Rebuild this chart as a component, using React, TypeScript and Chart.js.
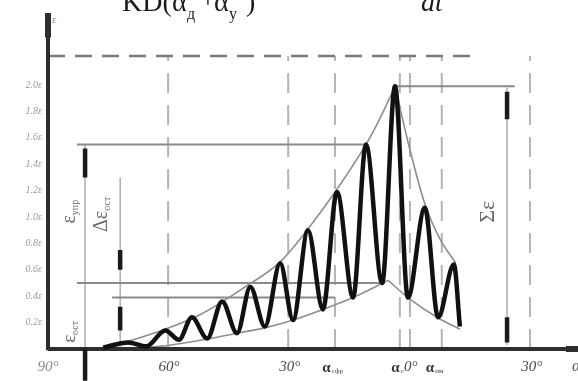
import React, { useEffect, useRef } from 'react';
import { Chart, registerables } from 'chart.js';

Chart.register(...registerables);

// x: phase angle in degrees (0 = crest), y: strain in units of ε
const waveAngles = [-76.3, -70.1, -65.6, -60.9, -57.5, -54.3, -50.5, -46.8, -43.1, -39.8, -36.2, -32.4, -29.2, -25.5, -21.8, -18.3, -14.3, -11.1, -7.1, -3.9, -0.7, 3.5, 6.8, 10.7, 12.2];
const waveValues = [0.01, 0.05, 0.02, 0.14, 0.07, 0.24, 0.08, 0.36, 0.12, 0.47, 0.17, 0.65, 0.22, 0.9, 0.3, 1.19, 0.39, 1.55, 0.5, 1.99, 0.39, 1.07, 0.24, 0.64, 0.17];

const upperLeftAngles = [-75.9, -64.7, -52.3, -41.6, -32.4, -25.5, -18.3, -11.1, -7.6, -3.9];
const upperLeftValues = [0.01, 0.11, 0.26, 0.46, 0.66, 0.91, 1.21, 1.55, 1.75, 1.99];
const upperRightAngles = [-3.9, -0.2, 3.5, 7.3, 11.2];
const upperRightValues = [1.99, 1.51, 1.1, 0.83, 0.65];
const lowerLeftAngles = [-76.3, -62.2, -49.8, -43.1, -36.2, -29.2, -21.8, -14.3, -5.6];
const lowerLeftValues = [0, 0.02, 0.08, 0.12, 0.16, 0.22, 0.3, 0.39, 0.52];
const lowerRightAngles = [-5.6, -0.7, 6.8, 12.2];
const lowerRightValues = [0.52, 0.39, 0.235, 0.15];

// reference levels (value, from angle, to angle)
const levelValues = [1.99, 1.55, 0.5, 0.39];
const levelFrom = [-3.9, -82.8, -82.8, -74.1];
const levelTo = [25.8, -10.8, -6.4, -18.8];

const topLevel = 2.22;
const topLevelTo = 17.2;

// vertical dashed reference angles
const dashedAngles = [-60.2, -30.4, -18.8, -2.7, -0.2, 7.7, 29.6];

// dimension lines: angle, from, to
const dimAngles = [-80.8, -72.1, 23.9];
const dimFrom = [1.55, 1.3, 1.98];
const dimTo = [-0.24, 0, 0.03];
// arrow heads: angle, from, to
const arrowAngles = [-80.8, -80.8, -72.1, -72.1, 23.9, 23.9];
const arrowFrom = [1.52, 0, 0.75, 0.32, 1.95, 0.24];
const arrowTo = [1.3, -0.24, 0.6, 0.14, 1.74, 0.05];

const xTickAngles = [-90, -60, -30, 0, 30];
const yTickValues = [0.2, 0.4, 0.6, 0.8, 1.0, 1.2, 1.4, 1.6, 1.8, 2.0];

const X_MIN = -90;
const X_MAX = 41.5;
const Y_MAX = 2.22;
const AXIS_TOP = 2.545;

const SERIF = '"Liberation Serif", "DejaVu Serif", serif';

const rotatedLabels = [
  { a: -85.0, v: 1.04, main: 'ε', sub: 'упр', size: 20 },
  { a: -77.1, v: 1.02, main: 'Δε', sub: 'ост', size: 20 },
  { a: -85.0, v: 0.13, main: 'ε', sub: 'ост', size: 19 },
  { a: 18.7, v: 1.04, main: 'Σε', sub: '', size: 22 },
];

const alphaLabels = [
  { a: -19.5, sub: 'сфр' },
  { a: -3.4, sub: 'с' },
  { a: 5.8, sub: 'пм' },
];

function line(xs: number[], ys: number[], color: string, width: number, dash: number[] = [], smooth = false) {
  return {
    type: 'line' as const,
    data: xs.map((x, i) => ({ x, y: ys[i] })),
    borderColor: color,
    borderWidth: width,
    borderDash: dash,
    pointRadius: 0,
    fill: false,
    tension: smooth ? 0.4 : 0,
    cubicInterpolationMode: smooth ? ('monotone' as const) : ('default' as const),
    clip: false as const,
    borderCapStyle: 'butt' as const,
  };
}

const annotPlugin = {
  id: 'annot',
  afterDatasetsDraw(chart: any) {
    const { ctx, scales, chartArea } = chart;
    const xs = scales.x;
    const ys = scales.y;
    ctx.save();
    // rotated labels
    for (const l of rotatedLabels) {
      const px = xs.getPixelForValue(l.a);
      const py = ys.getPixelForValue(l.v);
      ctx.save();
      ctx.translate(px, py);
      ctx.rotate(-Math.PI / 2);
      ctx.fillStyle = '#6a6a6a';
      ctx.font = `${l.size}px ${SERIF}`;
      const mw = ctx.measureText(l.main).width;
      const subSize = Math.round(l.size * 0.5);
      ctx.font = `${subSize}px ${SERIF}`;
      const sw = l.sub ? ctx.measureText(l.sub).width : 0;
      const total = mw + sw;
      ctx.textBaseline = 'alphabetic';
      ctx.font = `${l.size}px ${SERIF}`;
      ctx.fillText(l.main, -total / 2, l.size * 0.35);
      if (l.sub) {
        ctx.font = `${subSize}px ${SERIF}`;
        ctx.fillText(l.sub, -total / 2 + mw, l.size * 0.35 + l.size * 0.15);
      }
      ctx.restore();
    }
    // alpha labels under the x axis
    const by = chartArea.bottom + 23;
    for (const l of alphaLabels) {
      const px = xs.getPixelForValue(l.a);
      ctx.fillStyle = '#3a3a3a';
      ctx.font = `bold 15px ${SERIF}`;
      const mw = ctx.measureText('α').width;
      ctx.font = `7px ${SERIF}`;
      const sw = ctx.measureText(l.sub).width;
      const left = px - (mw + sw) / 2;
      ctx.font = `bold 15px ${SERIF}`;
      ctx.fillText('α', left, by);
      ctx.font = `7px ${SERIF}`;
      ctx.fillText(l.sub, left + mw + 1, by + 1);
    }
    // axis name
    ctx.fillStyle = '#8a8a8a';
    ctx.font = `italic 11px ${SERIF}`;
    ctx.fillText('ε', xs.getPixelForValue(X_MIN) + 4, ys.getPixelForValue(2.47));
    ctx.fillStyle = '#555';
    ctx.font = `italic 16px ${SERIF}`;
    ctx.fillText('α', chartArea.right - 6, chartArea.bottom + 22);
    // formula fragment at the top (cut by the frame)
    ctx.fillStyle = '#1a1a1a';
    ctx.font = `28px ${SERIF}`;
    ctx.fillText('KD(', 122, 11);
    ctx.fillText('α', 172, 11);
    ctx.font = `16px ${SERIF}`;
    ctx.fillText('д', 187, 19);
    ctx.font = `28px ${SERIF}`;
    ctx.fillText('+', 200, 8);
    ctx.fillText('α', 214, 11);
    ctx.font = `16px ${SERIF}`;
    ctx.fillText('у', 229, 19);
    ctx.font = `28px ${SERIF}`;
    ctx.fillText(')', 246, 11);
    ctx.font = `italic 28px ${SERIF}`;
    ctx.fillText('dt', 421, 11);
    ctx.restore();
  },
};

export default function App() {
  const ref = useRef<HTMLCanvasElement | null>(null);

  useEffect(() => {
    if (!ref.current) return;
    const datasets: any[] = [];
    // main oscillation (on top)
    datasets.push(line(waveAngles, waveValues, '#111111', 4.5, [], true));
    // arrow heads
    for (let i = 0; i < arrowAngles.length; i++) {
      datasets.push(line([arrowAngles[i], arrowAngles[i]], [arrowFrom[i], arrowTo[i]], '#1a1a1a', 4.5));
    }
    // axes
    datasets.push(line([X_MIN, X_MIN], [-0.01, AXIS_TOP], '#2e2e2e', 4));
    datasets.push(line([X_MIN, X_MIN], [2.36, AXIS_TOP], '#2e2e2e', 6));
    datasets.push(line([X_MIN, X_MAX], [0, 0], '#2e2e2e', 4));
    datasets.push(line([38.5, X_MAX], [0, 0], '#2e2e2e', 6));
    // envelopes
    datasets.push(line(upperLeftAngles, upperLeftValues, '#8e8e8e', 1.6, [], true));
    datasets.push(line(upperRightAngles, upperRightValues, '#8e8e8e', 1.6, [], true));
    datasets.push(line(lowerLeftAngles, lowerLeftValues, '#8e8e8e', 1.6, [], true));
    datasets.push(line(lowerRightAngles, lowerRightValues, '#8e8e8e', 1.6, [], true));
    // horizontal levels
    for (let i = 0; i < levelValues.length; i++) {
      datasets.push(line([levelFrom[i], levelTo[i]], [levelValues[i], levelValues[i]], '#8a8a8a', 2));
    }
    // dimension lines
    for (let i = 0; i < dimAngles.length; i++) {
      datasets.push(line([dimAngles[i], dimAngles[i]], [dimFrom[i], dimTo[i]], '#9a9a9a', 1.2));
    }
    // top dashed
    datasets.push(line([X_MIN, topLevelTo], [topLevel, topLevel], '#7a7a7a', 2.5, [17, 10]));
    // vertical dashed
    for (const a of dashedAngles) {
      datasets.push(line([a, a], [0, Y_MAX], '#b4b4b4', 2, [20, 12]));
    }

    const chart = new Chart(ref.current, {
      type: 'line',
      data: { datasets },
      options: {
        animation: false,
        responsive: false,
        devicePixelRatio: 1,
        layout: { padding: { top: 56, left: 0, right: 0, bottom: 0 } },
        plugins: { legend: { display: false }, tooltip: { enabled: false } },
        scales: {
          x: {
            type: 'linear',
            min: X_MIN,
            max: X_MAX,
            grid: { display: false, drawTicks: false },
            border: { display: false },
            afterFit: (s: any) => { s.height = 32; },
            afterBuildTicks: (s: any) => { s.ticks = xTickAngles.map((v) => ({ value: v })); },
            ticks: {
              padding: 9,
              maxRotation: 0,
              autoSkip: false,
              font: { family: SERIF, size: 15, style: 'italic' },
              color: (c: any) => (c.tick && c.tick.value === -90 ? '#8a8a8a' : '#4a4a4a'),
              callback: (v: any) => `${Math.abs(Number(v))}°`,
            },
          },
          y: {
            type: 'linear',
            min: 0,
            max: Y_MAX,
            grid: { display: false, drawTicks: false },
            border: { display: false },
            afterFit: (s: any) => { s.width = 48; },
            afterBuildTicks: (s: any) => { s.ticks = yTickValues.map((v) => ({ value: v })); },
            ticks: {
              padding: 6,
              autoSkip: false,
              font: { family: SERIF, size: 10, style: 'italic' },
              color: '#9a9a9a',
              callback: (v: any) => `${Number(v).toFixed(1)}ε`,
            },
          },
        },
      },
      plugins: [annotPlugin],
    });
    return () => chart.destroy();
  }, []);

  return (
    <div style={{ position: 'absolute', left: 0, top: 0, width: 578, height: 381, background: '#fff' }}>
      <canvas ref={ref} width={578} height={381} style={{ display: 'block' }} />
    </div>
  );
}
